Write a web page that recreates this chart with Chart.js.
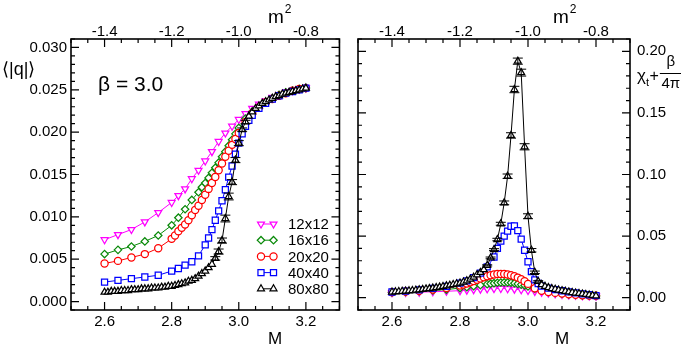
<!DOCTYPE html>
<html><head><meta charset="utf-8">
<script src="https://cdn.jsdelivr.net/npm/chart.js@4.4.1/dist/chart.umd.min.js"></script>
<style>
html,body{margin:0;padding:0;background:#fff;}
#wrap{position:relative;width:681px;height:346px;overflow:hidden;background:#fff;}
canvas{position:absolute;top:0;}
</style></head><body>
<div id="wrap">
<canvas id="cl" width="345" height="346" style="left:0;width:345px;height:346px"></canvas>
<canvas id="cr" width="336" height="346" style="left:345px;width:336px;height:346px"></canvas>
</div>
<script>
// ---------------- data ----------------
const SIZES = ['12x12','16x16','20x20','40x40','80x80'];
const X_TICKS = [2.6, 2.8, 3.0, 3.2];
const M2_TICKS = [-1.4, -1.2, -1.0, -0.8];
const Q_TICKS = [0.000, 0.005, 0.010, 0.015, 0.020, 0.025, 0.030];
const CHI_TICKS = [0.00, 0.05, 0.10, 0.15, 0.20];

const M12 = [2.60,2.64,2.68,2.72,2.76,2.80,2.82,2.84,2.86,2.88,2.90,2.92,2.94,2.96,2.98,3.00,3.02,3.04,3.06,3.08,3.10,3.12,3.14,3.16,3.18,3.20];
const Q12 = [0.0073,0.0079,0.0085,0.0094,0.0105,0.0117,0.0125,0.0133,0.0145,0.0155,0.0166,0.0177,0.0189,0.0199,0.0207,0.0215,0.0222,0.0228,0.0233,0.0237,0.0241,0.0244,0.0247,0.0249,0.0251,0.0252];
const X12 = [0.0040,0.0042,0.0045,0.0048,0.0052,0.0057,0.0061,0.0065,0.0069,0.0072,0.0074,0.0075,0.0073,0.0069,0.0064,0.0058,0.0051,0.0044,0.0037,0.0031,0.0026,0.0022,0.0019,0.0016,0.0014,0.0012];

const M16 = [2.60,2.64,2.68,2.72,2.76,2.80,2.82,2.84,2.86,2.88,2.89,2.90,2.91,2.92,2.93,2.94,2.95,2.96,2.97,2.98,2.99,3.00,3.02,3.04,3.06,3.08,3.10,3.12,3.14,3.16,3.18,3.20];
const Q16 = [0.0056,0.0061,0.0065,0.0071,0.0078,0.0090,0.0099,0.0109,0.0120,0.0129,0.0135,0.0140,0.0146,0.0152,0.0158,0.0164,0.0171,0.0177,0.0184,0.0191,0.0198,0.0205,0.0216,0.0224,0.0230,0.0235,0.0240,0.0244,0.0247,0.0249,0.0251,0.0252];
const X16 = [0.0043,0.0047,0.0052,0.0058,0.0066,0.0078,0.0085,0.0093,0.0102,0.0110,0.0114,0.0118,0.0121,0.0123,0.0124,0.0123,0.0121,0.0117,0.0112,0.0106,0.0099,0.0091,0.0073,0.0058,0.0047,0.0039,0.0032,0.0027,0.0023,0.0019,0.0016,0.0014];

const M20 = [2.60,2.64,2.68,2.72,2.76,2.80,2.81,2.82,2.83,2.84,2.85,2.86,2.87,2.88,2.89,2.90,2.91,2.92,2.93,2.94,2.95,2.96,2.97,2.98,2.99,3.00,3.02,3.04,3.06,3.08,3.10,3.12,3.14,3.16,3.18,3.20];
const Q20 = [0.0045,0.0048,0.0052,0.0056,0.0063,0.0074,0.0078,0.0083,0.0087,0.0091,0.0096,0.0102,0.0108,0.0113,0.0120,0.0126,0.0133,0.0140,0.0147,0.0155,0.0163,0.0171,0.0178,0.0185,0.0192,0.0199,0.0212,0.0222,0.0229,0.0235,0.0239,0.0243,0.0246,0.0249,0.0251,0.0252];
const X20 = [0.0045,0.0050,0.0057,0.0066,0.0078,0.0098,0.0106,0.0115,0.0125,0.0135,0.0145,0.0155,0.0165,0.0174,0.0182,0.0188,0.0192,0.0193,0.0192,0.0188,0.0182,0.0174,0.0163,0.0150,0.0133,0.0112,0.0076,0.0057,0.0046,0.0039,0.0033,0.0028,0.0024,0.0020,0.0017,0.0015];

const M40 = [2.60,2.64,2.68,2.72,2.76,2.80,2.82,2.84,2.86,2.88,2.90,2.91,2.92,2.93,2.94,2.95,2.96,2.97,2.98,2.99,3.00,3.01,3.02,3.03,3.04,3.06,3.08,3.10,3.12,3.14,3.16,3.18,3.20];
const Q40 = [0.0023,0.0025,0.0027,0.0029,0.0031,0.0036,0.0039,0.0043,0.0047,0.0054,0.0067,0.0075,0.0085,0.0096,0.0107,0.0119,0.0132,0.0147,0.0160,0.0174,0.0187,0.0198,0.0207,0.0214,0.0220,0.0228,0.0234,0.0239,0.0243,0.0246,0.0248,0.0250,0.0252];
const X40 = [0.0046,0.0053,0.0063,0.0075,0.0092,0.0118,0.0137,0.0163,0.0200,0.0250,0.0330,0.0400,0.0460,0.0500,0.0540,0.0580,0.0582,0.0545,0.0475,0.0385,0.0292,0.0212,0.0145,0.0115,0.0095,0.0078,0.0066,0.0056,0.0047,0.0039,0.0031,0.0024,0.0017];

const M80 = [2.60,2.61,2.62,2.63,2.64,2.65,2.66,2.67,2.68,2.69,2.70,2.71,2.72,2.73,2.74,2.75,2.76,2.77,2.78,2.79,
             2.80,2.81,2.82,2.83,2.84,2.85,2.86,2.87,2.88,2.89,2.90,2.91,2.92,2.93,2.94,2.95,2.96,2.97,2.98,2.99,
             3.00,3.01,3.02,3.03,3.04,3.05,3.06,3.07,3.08,3.09,3.10,3.11,3.12,3.13,3.14,3.15,3.16,3.17,3.18,3.19,3.20];
const Q80 = [0.0011,0.0011,0.0012,0.0012,0.0012,0.0013,0.0013,0.0013,0.0014,0.0014,0.0014,0.0015,0.0015,0.0015,0.0016,0.0016,0.0016,0.0017,0.0017,0.0018,
             0.0018,0.0019,0.0020,0.0021,0.0022,0.0024,0.0025,0.0027,0.0030,0.0033,0.0036,0.0040,0.0044,0.0051,0.0059,0.0072,0.0098,0.0124,0.0141,0.0167,
             0.0187,0.0203,0.0212,0.0219,0.0224,0.0228,0.0231,0.0234,0.0236,0.0238,0.0240,0.0242,0.0243,0.0245,0.0246,0.0247,0.0248,0.0249,0.0250,0.0251,0.0252];
const Q80_ERR = [0,0,0,0,0,0,0,0,0,0,0,0,0,0,0,0,0,0,0,0,
                 0,0,0,0,0,0,0,0,0,0,0,0,0,0.0002,0.0003,0.0003,0.0004,0.0004,0.0003,0.0003,
                 0.0003,0.0002,0.0002,0,0,0,0,0,0,0,0,0,0,0,0,0,0,0,0,0,0];
const X80 = [0.0046,0.0048,0.0050,0.0052,0.0054,0.0056,0.0058,0.0061,0.0064,0.0067,0.0071,0.0074,0.0078,0.0082,0.0086,0.0091,0.0096,0.0101,0.0107,0.0113,
             0.0119,0.0127,0.0137,0.0150,0.0166,0.0186,0.0205,0.0228,0.0262,0.0323,0.0390,0.0472,0.0600,0.0770,0.0986,0.1317,0.1690,0.1920,0.1827,0.1225,
             0.0661,0.0385,0.0206,0.0132,0.0106,0.0092,0.0082,0.0074,0.0068,0.0062,0.0057,0.0052,0.0047,0.0042,0.0038,0.0034,0.0030,0.0026,0.0022,0.0018,0.0014];
const X80_ERR = [0,0,0,0,0,0,0,0,0,0,0,0,0,0,0,0,0,0,0,0,
                 0,0,0,0,0,0,0,0,0.0005,0.0007,0.0008,0.0010,0.0012,0.0015,0.0018,0.0022,0.0026,0.0025,0.0028,0.0025,
                 0.0020,0.0014,0.0010,0.0006,0,0,0,0,0,0,0,0,0,0,0,0,0,0,0,0,0];

// ---------------- styling ----------------
const FONT = "'Liberation Sans', Arial, Helvetica, sans-serif";
Chart.defaults.font.family = FONT;
Chart.defaults.color = '#000';
const STYLE = {
  '12x12': {color:'#ff00ff', pointStyle:'triangle', rotation:180, radius:4},
  '16x16': {color:'#0a8a0a', pointStyle:'rectRot', rotation:0, radius:3.7},
  '20x20': {color:'#ff0000', pointStyle:'circle', rotation:0, radius:3.6},
  '40x40': {color:'#0000ff', pointStyle:'rect', rotation:0, radius:4.3},
  '80x80': {color:'#000000', pointStyle:'triangle', rotation:0, radius:4}
};

function makeSet(label, ms, vals, errs){
  const s = STYLE[label];
  return {
    label, showLine:true, errors: errs || null,
    data: ms.map((m,i)=>({x:m, y:vals[i]})),
    borderColor:s.color, backgroundColor:'#fff', borderWidth:1,
    pointStyle:s.pointStyle, rotation:s.rotation, pointRadius:s.radius, pointHoverRadius:s.radius,
    pointBorderColor:s.color, pointBackgroundColor:'#fff', pointBorderWidth:1.25
  };
}

const leftSets = [
  makeSet('80x80', M80, Q80, Q80_ERR),
  makeSet('40x40', M40, Q40),
  makeSet('20x20', M20, Q20),
  makeSet('16x16', M16, Q16),
  makeSet('12x12', M12, Q12)
];
const rightSets = [
  makeSet('80x80', M80, X80, X80_ERR),
  makeSet('40x40', M40, X40),
  makeSet('20x20', M20, X20),
  makeSet('16x16', M16, X16),
  makeSet('12x12', M12, X12)
];

// ---------------- plugins ----------------
const errorBars = {
  id:'errorBars',
  afterDatasetsDraw(chart){
    const ctx = chart.ctx, ys = chart.scales.y;
    chart.data.datasets.forEach((ds, di)=>{
      if(!ds.errors) return;
      const meta = chart.getDatasetMeta(di);
      ctx.save(); ctx.strokeStyle = ds.borderColor; ctx.lineWidth = 1;
      meta.data.forEach((el, i)=>{
        const e = ds.errors[i]; if(!e) return;
        const v = ds.data[i].y;
        const y1 = ys.getPixelForValue(v+e), y2 = ys.getPixelForValue(v-e);
        ctx.beginPath();
        ctx.moveTo(el.x, y1); ctx.lineTo(el.x, y2);
        ctx.moveTo(el.x-5, y1); ctx.lineTo(el.x+5, y1);
        ctx.moveTo(el.x-5, y2); ctx.lineTo(el.x+5, y2);
        ctx.stroke();
      });
      ctx.restore();
    });
  }
};

function frameTicks(yMinor){
  return {
    id:'frameTicks',
    afterDraw(chart){
      const ctx = chart.ctx, a = chart.chartArea, S = chart.scales;
      const MAJ = 8, MIN = 4;
      ctx.save(); ctx.strokeStyle = '#000'; ctx.lineWidth = 1.2;
      function run(scale, step, cb){
        const majors = scale.ticks.map(t=>t.value);
        const n = Math.round((scale.max - scale.min)/step);
        for(let k=0;k<=n;k++){
          const v = scale.min + k*step;
          const isMaj = majors.some(m=>Math.abs(m-v) < step*0.01);
          cb(scale.getPixelForValue(v), isMaj ? MAJ : MIN);
        }
      }
      ctx.beginPath();
      run(S.x, 0.05, (p,l)=>{ ctx.moveTo(p, a.bottom); ctx.lineTo(p, a.bottom-l); });
      run(S.x2, 0.05, (p,l)=>{ ctx.moveTo(p, a.top); ctx.lineTo(p, a.top+l); });
      run(S.y, yMinor, (p,l)=>{ ctx.moveTo(a.left, p); ctx.lineTo(a.left+l, p); ctx.moveTo(a.right, p); ctx.lineTo(a.right-l, p); });
      ctx.stroke();
      ctx.lineWidth = 1.6;
      ctx.strokeRect(a.left, a.top, a.right-a.left, a.bottom-a.top);
      ctx.restore();
    }
  };
}

function drawM2(ctx, x){
  ctx.font = '19px ' + FONT; ctx.textAlign='left'; ctx.textBaseline='alphabetic';
  ctx.fillText('m', x, 23);
  const w = ctx.measureText('m').width;
  ctx.font = '12px ' + FONT; ctx.fillText('2', x+w+1, 13);
}

const leftText = {
  id:'leftText',
  afterDraw(chart){
    const ctx = chart.ctx;
    ctx.save(); ctx.fillStyle='#000';
    ctx.font = '18px ' + FONT; ctx.textAlign='left'; ctx.textBaseline='alphabetic';
    ctx.fillText('\u27E8|q|\u27E9', 2, 75);
    ctx.font = '21px ' + FONT;
    ctx.fillText('\u03B2 = 3.0', 98, 91);
    ctx.font = '17px ' + FONT; ctx.textAlign='center';
    ctx.fillText('M', 275, 344);
    drawM2(ctx, 268);
    // legend
    const H = Chart.helpers;
    SIZES.forEach((lab, i)=>{
      const s = STYLE[lab], y = 224 + i*16.2;
      ctx.strokeStyle = s.color; ctx.lineWidth = 1;
      ctx.beginPath(); ctx.moveTo(261, y); ctx.lineTo(273.5, y); ctx.stroke();
      ctx.fillStyle = '#fff'; ctx.lineWidth = 1.25;
      [261, 273.5].forEach(x=>{
        H.drawPoint(ctx, {pointStyle:s.pointStyle, rotation:s.rotation, radius:s.radius, borderWidth:1.25}, x, y);
      });
      ctx.fillStyle = '#000'; ctx.font = '15px ' + FONT; ctx.textAlign='left'; ctx.textBaseline='middle';
      ctx.fillText(lab, 288, y+1);
    });
    ctx.restore();
  }
};

const rightText = {
  id:'rightText',
  afterDraw(chart){
    const ctx = chart.ctx;
    ctx.save(); ctx.fillStyle='#000'; ctx.textBaseline='alphabetic';
    ctx.font = '17px ' + FONT; ctx.textAlign='center';
    ctx.fillText('M', 217, 344);
    drawM2(ctx, 208);
    ctx.textAlign='left';
    let x = 292;
    ctx.font = '17px ' + FONT; ctx.fillText('\u03C7', x, 81); x += ctx.measureText('\u03C7').width;
    ctx.font = '11px ' + FONT; ctx.fillText('t', x, 86); x += ctx.measureText('t').width + 0.5;
    ctx.font = '16px ' + FONT; ctx.fillText('+', x, 81); x += ctx.measureText('+').width + 1;
    const cx = x + 11;
    ctx.font = '15px ' + FONT; ctx.textAlign='center';
    ctx.fillText('\u03B2', cx, 66);
    ctx.fillText('4\u03C0', cx, 88);
    ctx.lineWidth = 1; ctx.strokeStyle='#000';
    ctx.beginPath(); ctx.moveTo(cx-11, 73.5); ctx.lineTo(cx+11, 73.5); ctx.stroke();
    ctx.restore();
  }
};

// ---------------- scales ----------------
function ticksFrom(arr){ return s => { s.ticks = arr.map(v=>({value:v})); }; }
function xScales(){
  return {
    x: {type:'linear', position:'bottom', min:2.5, max:3.3,
        grid:{display:false, drawTicks:false}, border:{display:false},
        afterBuildTicks: ticksFrom(X_TICKS), afterFit: s=>{ s.height = 36; },
        ticks:{font:{size:15}, color:'#000', padding:3, maxRotation:0, autoSkip:false, callback:v=>v.toFixed(1)}},
    x2: {type:'linear', axis:'x', position:'top', min:-1.5, max:-0.7,
        grid:{display:false, drawTicks:false}, border:{display:false},
        afterBuildTicks: ticksFrom(M2_TICKS), afterFit: s=>{ s.height = 39; },
        ticks:{font:{size:15}, color:'#000', padding:-2, maxRotation:0, autoSkip:false, callback:v=>v.toFixed(1)}}
  };
}

const baseOptions = {
  responsive:false, animation:false, devicePixelRatio:1,
  plugins:{legend:{display:false}, tooltip:{enabled:false}},
  events:[]
};

new Chart(document.getElementById('cl'), {
  type:'scatter',
  data:{datasets:leftSets},
  options:Object.assign({}, baseOptions, {
    layout:{padding:{left:0, right:4, top:0, bottom:0}},
    scales:Object.assign(xScales(), {
      y:{type:'linear', position:'left', min:-0.001, max:0.031,
         grid:{display:false, drawTicks:false}, border:{display:false},
         afterBuildTicks: ticksFrom(Q_TICKS), afterFit: s=>{ s.width = 71; },
         ticks:{font:{size:15}, color:'#000', padding:4, callback:v=>v.toFixed(3)}}
    })
  }),
  plugins:[errorBars, frameTicks(0.001), leftText]
});

new Chart(document.getElementById('cr'), {
  type:'scatter',
  data:{datasets:rightSets},
  options:Object.assign({}, baseOptions, {
    layout:{padding:{left:13, right:0, top:0, bottom:0}},
    scales:Object.assign(xScales(), {
      y:{type:'linear', position:'right', min:-0.01, max:0.21,
         grid:{display:false, drawTicks:false}, border:{display:false},
         afterBuildTicks: ticksFrom(CHI_TICKS), afterFit: s=>{ s.width = 51; },
         ticks:{font:{size:15}, color:'#000', padding:7, callback:v=>v.toFixed(2)}}
    })
  }),
  plugins:[errorBars, frameTicks(0.01), rightText]
});
</script>
</body></html>
